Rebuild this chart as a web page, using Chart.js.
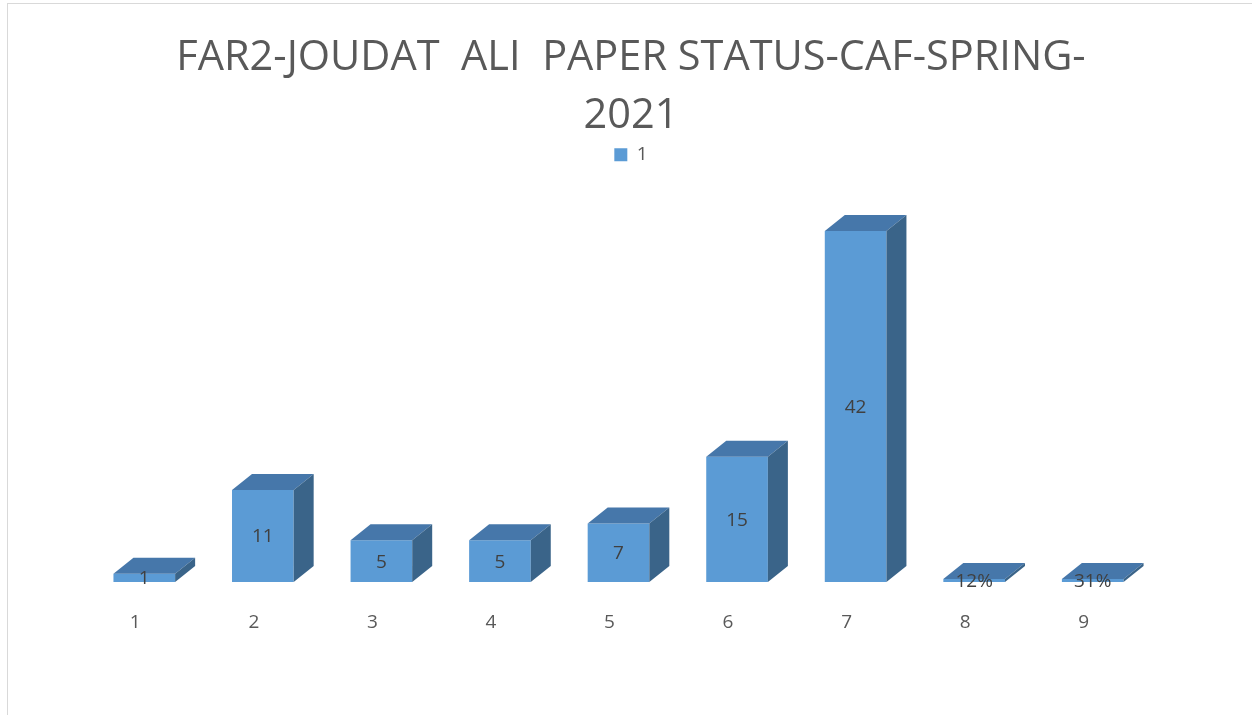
<!DOCTYPE html>
<html>
<head>
<meta charset="utf-8">
<script src="https://cdn.jsdelivr.net/npm/chart.js@4.4.1/dist/chart.umd.min.js"></script>
<style>
  html, body { margin: 0; padding: 0; background: #ffffff; overflow: hidden; }
  #frame { position: absolute; left: 7px; top: 3px; width: 1260px; height: 720px;
           border-left: 1px solid #d9d9d9; border-top: 1px solid #d9d9d9; }
  #c { position: absolute; left: 0; top: 0; }
</style>
</head>
<body>
<div id="frame"><canvas id="c" width="1246" height="711"></canvas></div>
<script>
// ---- data ----
const categories = ['1', '2', '3', '4', '5', '6', '7', '8', '9'];
const seriesName = '1';
const values = [1, 11, 5, 5, 7, 15, 42, 0.12, 0.31];
const titleLines = ['FAR2-JOUDAT  ALI  PAPER STATUS-CAF-SPRING-', '2021'];

// ---- styles ----
const FRONT = '#5B9BD5';
const TOP = '#4677AA';
const SIDE = '#3A6489';
const DX = 20, DY = 16;
const FONT = "'Open Sans', 'Liberation Sans', sans-serif";

const fmt = v => (v < 1 ? Math.round(v * 100) + '%' : String(v));

const bar3d = {
  id: 'bar3d',
  afterDatasetsDraw(chart) {
    const ctx = chart.ctx;
    const meta = chart.getDatasetMeta(0);
    ctx.save();
    meta.data.forEach(el => {
      const p = el.getProps(['x', 'y', 'base', 'width'], true);
      const l = p.x - p.width / 2, r = p.x + p.width / 2;
      const t = Math.min(p.y, p.base), b = Math.max(p.y, p.base);
      ctx.fillStyle = TOP;
      ctx.beginPath();
      ctx.moveTo(l, t); ctx.lineTo(l + DX, t - DY); ctx.lineTo(r + DX, t - DY); ctx.lineTo(r, t);
      ctx.closePath(); ctx.fill();
      ctx.fillStyle = SIDE;
      ctx.beginPath();
      ctx.moveTo(r, t); ctx.lineTo(r + DX, t - DY); ctx.lineTo(r + DX, b - DY); ctx.lineTo(r, b);
      ctx.closePath(); ctx.fill();
    });
    ctx.fillStyle = '#404040';
    ctx.font = '19px ' + FONT;
    ctx.textAlign = 'center';
    ctx.textBaseline = 'middle';
    meta.data.forEach((el, i) => {
      const p = el.getProps(['x', 'y', 'base'], true);
      const v = chart.data.datasets[0].data[i];
      ctx.fillText(fmt(v), p.x, (p.y + p.base) / 2 + 1);
    });
    ctx.restore();
  }
};

const chart = new Chart(document.getElementById('c'), {
  type: 'bar',
  data: {
    labels: categories,
    datasets: [{
      label: seriesName,
      data: values,
      backgroundColor: FRONT,
      borderWidth: 0,
      minBarLength: 3,
      categoryPercentage: 1.0,
      barPercentage: 0.52
    }]
  },
  options: {
    responsive: false,
    animation: false,
    devicePixelRatio: 1,
    layout: { padding: { top: 0, bottom: 0, left: 0, right: 0 } },
    plugins: {
      title: {
        display: true,
        text: titleLines,
        color: '#595959',
        font: { family: FONT, size: 41.5, weight: 'normal', lineHeight: 1.4 },
        padding: { top: 25, bottom: 0 }
      },
      legend: {
        display: true,
        position: 'top',
        labels: {
          color: '#595959',
          font: { family: FONT, size: 19 },
          boxWidth: 13, boxHeight: 13,
          padding: 0
        }
      },
      tooltip: { enabled: false }
    },
    scales: {
      x: {
        grid: { display: false, drawTicks: false },
        border: { display: false },
        ticks: { color: '#595959', font: { family: FONT, size: 19 }, padding: 29, labelOffset: -9 },
        afterFit(s) { s.height = 133; }
      },
      y: {
        min: 0, max: 50,
        display: true,
        grid: { display: false, drawTicks: false },
        border: { display: false },
        ticks: { display: false },
        afterFit(s) { s.width = 77; }
      },
      y2: {
        position: 'right',
        display: true,
        grid: { display: false, drawTicks: false },
        border: { display: false },
        ticks: { display: false },
        afterFit(s) { s.width = 102; }
      }
    }
  },
  plugins: [bar3d]
});

const area = chart.chartArea;
chart.options.scales.y.max = (area.bottom - area.top) * 42 / 351;
chart.update();
</script>
</body>
</html>
